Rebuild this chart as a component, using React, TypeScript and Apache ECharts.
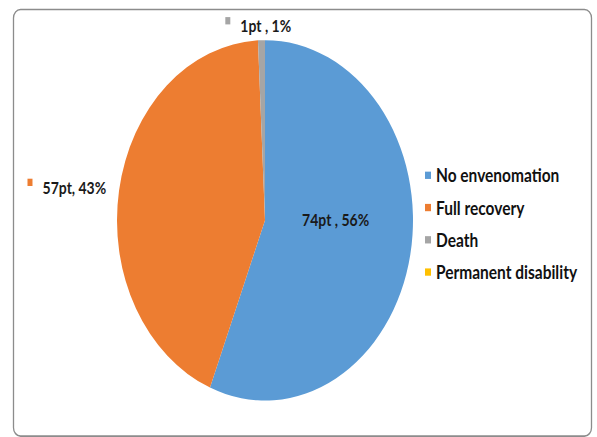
import React, { useEffect, useRef } from "react";
import * as echarts from "echarts";

const categories = ["No envenomation", "Full recovery", "Death", "Permanent disability"];
const patients = [74, 57, 1, 0];
const labelTexts = ["74pt , 56%", "57pt, 43%", "1pt , 1%", ""];
const colors = ["#5B9BD5", "#ED7D31", "#A5A5A5", "#FFC000"];

const W = 597;
const H_FINAL = 437;
const SCALE_Y = 1.2173;
const H = H_FINAL / SCALE_Y;
const FONT = "Lato, 'Open Sans', sans-serif";

export default function App() {
  const ref = useRef<HTMLDivElement>(null);
  useEffect(() => {
    if (!ref.current) return;
    const chart = echarts.init(ref.current, undefined, { renderer: "svg" });
    const data = categories.map((name, i) => {
      const isInside = i === 0;
      return {
        name,
        value: patients[i],
        itemStyle: { color: colors[i] },
        label: {
          show: patients[i] > 0,
          position: isInside ? "inside" : "outside",
          formatter: isInside ? `{t|${labelTexts[i]}}` : `{m|}   {t|${labelTexts[i]}}`,
          rich: {
            t: { fontFamily: FONT, fontSize: 14, fontWeight: "bold", color: "#1a1a1a" },
            m: { width: 5, height: 6, backgroundColor: colors[i], verticalAlign: "top" },
          },
        },
        labelLine: { show: false, length: 10, length2: 0 },
      };
    });
    chart.setOption({
      animation: false,
      color: colors,
      graphic: [
        {
          type: "rect",
          shape: { x: 13.5, y: 7.8, width: 578, height: 350.5, r: 7 },
          style: { fill: "none", stroke: "#8c8c8c", lineWidth: 1.3 },
          silent: true,
        },
      ],
      legend: {
        orient: "vertical",
        left: 420,
        top: 131,
        itemWidth: 6,
        itemHeight: 6,
        itemGap: 10.5,
        icon: "rect",
        data: categories,
        textStyle: { fontFamily: FONT, fontSize: 15.5, fontWeight: "bold", color: "#111", lineHeight: 14, padding: [0, 0, 0, 0] },
      },
      series: [
        {
          type: "pie",
          center: [265, 181],
          radius: 148,
          startAngle: 90,
          clockwise: true,
          avoidLabelOverlap: false,
          data,
          labelLayout: (p: any) => {
            if (p.dataIndex === 0) return { dx: -5, dy: -15 };
            if (p.dataIndex === 1) return { dx: 2, dy: -1 };
            if (p.dataIndex === 2) return { align: "center", dy: -2, dx: 2 };
            return {};
          },
        },
      ],
    });
    return () => chart.dispose();
  }, []);
  return (
    <div style={{ position: "fixed", left: 0, top: 0, width: W, height: H_FINAL, background: "#fff", overflow: "hidden" }}>
      <div
        ref={ref}
        style={{ width: W, height: H, transform: `scaleY(${SCALE_Y})`, transformOrigin: "top left" }}
      />
    </div>
  );
}
